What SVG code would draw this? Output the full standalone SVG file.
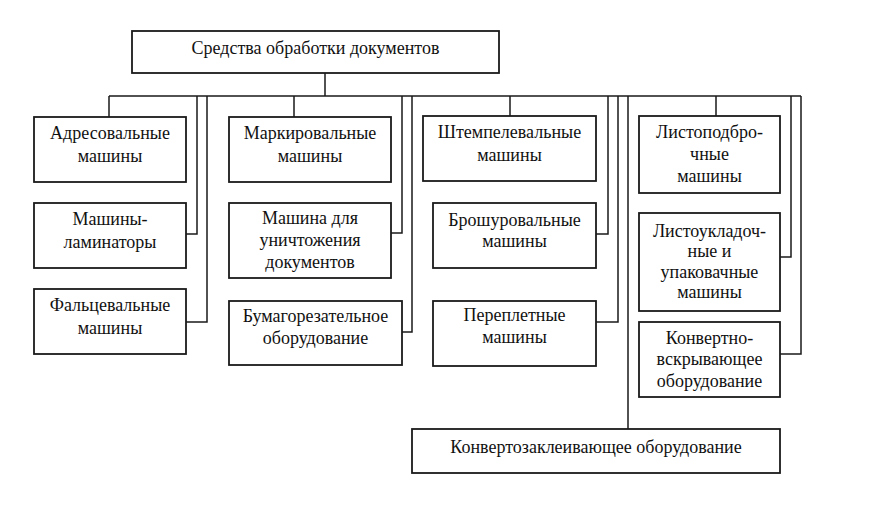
<svg xmlns="http://www.w3.org/2000/svg" width="884" height="509" viewBox="0 0 884 509">
<style>
.box{fill:#fff;stroke:#1a1a1a;stroke-width:1.8}
.ln{fill:none;stroke:#1a1a1a;stroke-width:1.5}
text{font-family:"Liberation Serif","Times New Roman",serif;font-size:18px;fill:#111;text-anchor:middle}
</style>
<rect width="884" height="509" fill="#fff"/>
<g id="connectors">
<path class="ln" d="M325,73V96M109,96H801M109,96V117"/>
<path class="ln" d="M197,96V234H186M207,96V322H186"/>
<path class="ln" d="M294,96V117M402,96V233H391M412,96V332H402"/>
<path class="ln" d="M510,96V116M608,96V234H596M618,96V322H596M628,96V429"/>
<path class="ln" d="M716,96V116M791,96V257H780M801,96V354H780"/>
</g>
<g id="root"><rect class="box" x="132" y="31" width="367" height="42"/><text x="315.5" y="54">Средства обработки документов</text></g>
<g id="n1"><rect class="box" x="34" y="117" width="152" height="65"/><text x="110" y="139">Адресовальные</text><text x="110" y="162">машины</text></g>
<g id="n2"><rect class="box" x="34" y="203" width="152" height="65"/><text x="110" y="225">Машины-</text><text x="110" y="248">ламинаторы</text></g>
<g id="n3"><rect class="box" x="34" y="289" width="152" height="65"/><text x="110" y="311">Фальцевальные</text><text x="110" y="334">машины</text></g>
<g id="n4"><rect class="box" x="229" y="117" width="162" height="65"/><text x="310" y="139">Маркировальные</text><text x="310" y="162">машины</text></g>
<g id="n5"><rect class="box" x="229" y="203" width="162" height="75"/><text x="310" y="224">Машина для</text><text x="310" y="246">уничтожения</text><text x="310" y="268">документов</text></g>
<g id="n6"><rect class="box" x="229" y="301" width="173" height="64"/><text x="315.5" y="322">Бумагорезательное</text><text x="315.5" y="344">оборудование</text></g>
<g id="n7"><rect class="box" x="423" y="116" width="173" height="65"/><text x="509.5" y="138">Штемпелевальные</text><text x="509.5" y="161">машины</text></g>
<g id="n8"><rect class="box" x="433" y="203" width="163" height="65"/><text x="514.5" y="226">Брошуровальные</text><text x="514.5" y="247">машины</text></g>
<g id="n9"><rect class="box" x="433" y="301" width="163" height="65"/><text x="514.5" y="321">Переплетные</text><text x="514.5" y="343">машины</text></g>
<g id="n10"><rect class="box" x="639" y="116" width="141" height="77"/><text x="709.5" y="138">Листоподбро-</text><text x="709.5" y="160">чные</text><text x="709.5" y="182">машины</text></g>
<g id="n11"><rect class="box" x="639" y="213" width="141" height="98"/><text x="709.5" y="237">Листоукладоч-</text><text x="709.5" y="257">ные и</text><text x="709.5" y="278">упаковачные</text><text x="709.5" y="298">машины</text></g>
<g id="n12"><rect class="box" x="639" y="322" width="141" height="75"/><text x="709.5" y="344">Конвертно-</text><text x="709.5" y="365">вскрывающее</text><text x="709.5" y="387">оборудование</text></g>
<g id="n13"><rect class="box" x="412" y="429" width="368" height="44"/><text x="596" y="453">Конвертозаклеивающее оборудование</text></g>
</svg>
